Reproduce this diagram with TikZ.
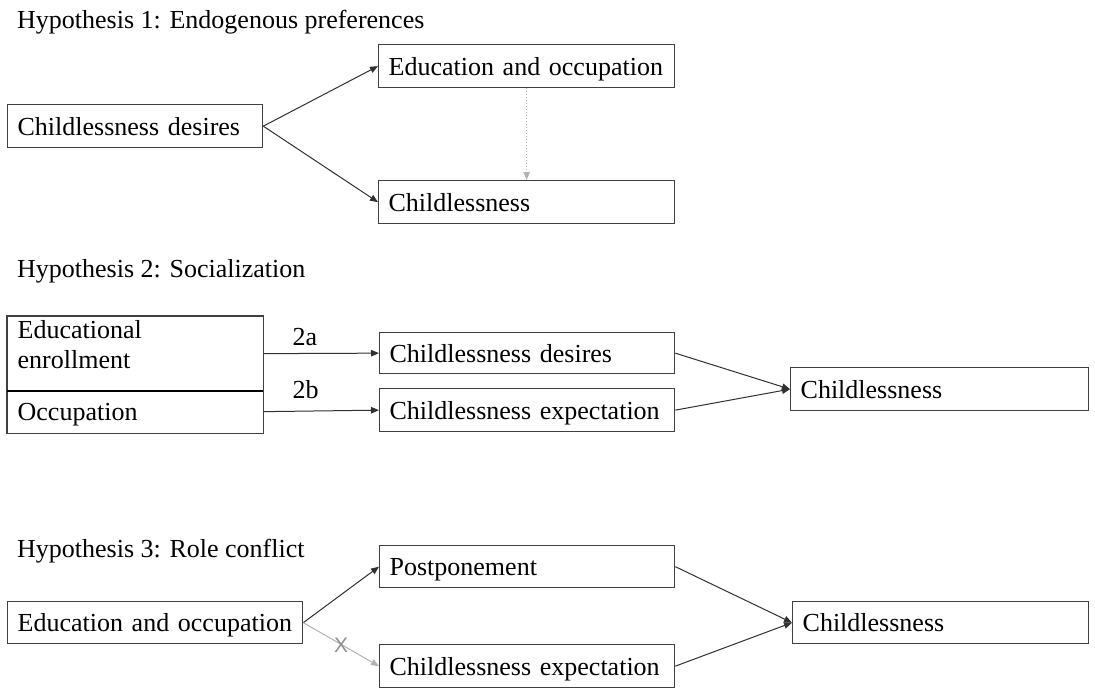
\documentclass[tikz,border=0pt]{standalone}
\usepackage{fontspec}
\setmainfont{Liberation Serif}
\setsansfont{Liberation Sans}
\usetikzlibrary{arrows.meta}
\definecolor{boxline}{HTML}{404040}
\definecolor{arrline}{HTML}{303030}
\definecolor{lightarr}{HTML}{B4B4B4}
\tikzset{
  every node/.style={font=\fontsize{26}{30}\selectfont},
  box/.style={draw=boxline, line width=1.3pt, anchor=north west, inner xsep=10pt, inner ysep=0pt, align=left, text depth=0pt},
  title/.style={anchor=base west, inner sep=0pt},
  conn/.style={draw=arrline, line width=1pt, -{Triangle[length=8pt,width=6.5pt]}},
  weakconn/.style={draw=lightarr, line width=1pt, -{Triangle[length=8pt,width=6.5pt]}},
  dotconn/.style={draw=lightarr, line width=1pt, dotted, -{Triangle[length=8pt,width=6.5pt]}},
  lbl/.style={anchor=base west, inner sep=0pt},
}
\newcommand{\boxnode}[6]{% name, x, y, width, height, text
  \node[box, text width=#4pt-20pt, minimum height=#5pt] (#1) at (#2,#3) {#6};}
\begin{document}
\begin{tikzpicture}[x=1pt,y=-1pt]
\useasboundingbox (0,0) rectangle (1095,688);
% Hypothesis 1
\node[title] (t1) at (17,28) {Hypothesis 1: Endogenous preferences};
\boxnode{d1}{7}{104}{255}{43}{Childlessness desires}
\boxnode{eo1}{378}{44}{296}{43}{Education and occupation}
\boxnode{c1}{378}{180}{296}{43}{Childlessness}
\draw[conn] (d1.east) -- (eo1.west);
\draw[conn] (d1.east) -- (c1.west);
\draw[dotconn] (eo1.south) -- (c1.north);
% Hypothesis 2
\node[title] (t2) at (17,277) {Hypothesis 2: Socialization};
\node[box, draw=none, text width=235pt, text height=22pt, text depth=52pt, align=left] (ee) at (7,316) {Educational\\enrollment};
\node[box, draw=none, text width=235pt, minimum height=42pt] (occ) at (7,390) {Occupation};
\draw[boxline, line width=1.3pt] (ee.north west) rectangle (occ.south east);
\draw[black, line width=1.8pt] (ee.south west) -- (ee.south east);
\boxnode{cd2}{379}{332}{295}{41}{Childlessness desires}
\boxnode{ce2}{379}{388}{295}{43}{Childlessness expectation}
\boxnode{c2}{790}{367}{298}{43}{Childlessness}
\draw[conn] (ee.east) -- node[lbl, pos=0.25, yshift=8pt] (l2a) {2a} (cd2.west);
\draw[conn] (occ.east) -- node[lbl, pos=0.25, yshift=13pt] (l2b) {2b} (ce2.west);
\draw[conn] (cd2.east) -- (c2.west);
\draw[conn] (ce2.east) -- (c2.west);
% Hypothesis 3
\node[title] (t3) at (17,557) {Hypothesis 3: Role conflict};
\boxnode{eo3}{7}{601}{295}{42}{Education and occupation}
\boxnode{p3}{379}{545}{295}{42}{Postponement}
\boxnode{ce3}{379}{644}{295}{43}{Childlessness expectation}
\boxnode{c3}{792}{601}{296}{42}{Childlessness}
\draw[conn] (eo3.east) -- (p3.west);
\draw[weakconn] (eo3.east) -- node[pos=0.5, text=lightarr!80!black, font=\sffamily\fontsize{21}{24}\selectfont, inner sep=0pt, yshift=-1pt] (x3) {X} (ce3.west);
\draw[conn] (p3.east) -- (c3.west);
\draw[conn] (ce3.east) -- (c3.west);
\end{tikzpicture}
\end{document}
